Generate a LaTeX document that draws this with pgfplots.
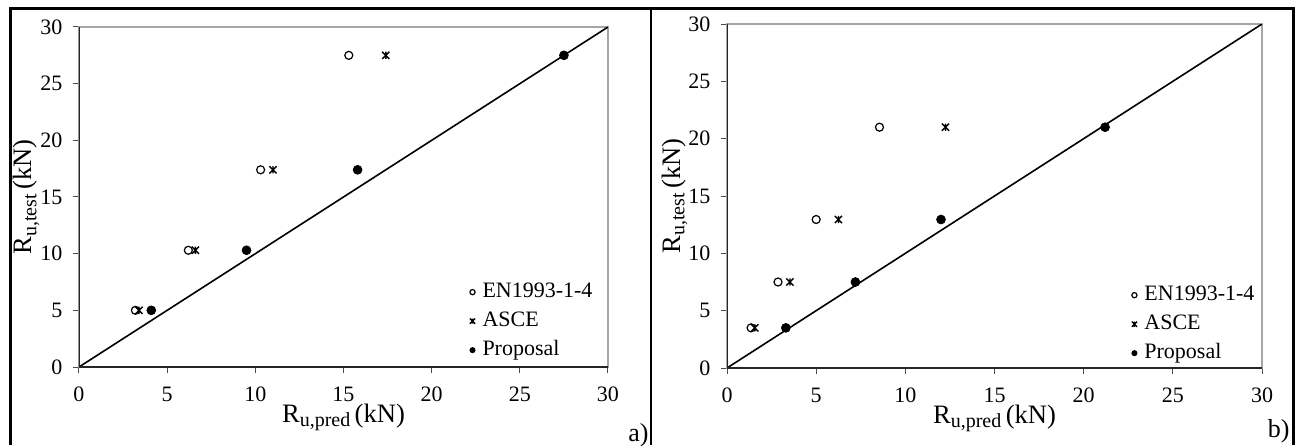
\documentclass[border=0pt]{standalone}
\usepackage{pgfplots}
\pgfplotsset{compat=1.18}
\usepackage{fontspec}
\setmainfont{Liberation Serif}

\pgfdeclareplotmark{xstar}{%
  \pgfpathmoveto{\pgfqpoint{-\pgfplotmarksize}{-\pgfplotmarksize}}%
  \pgfpathlineto{\pgfqpoint{\pgfplotmarksize}{\pgfplotmarksize}}%
  \pgfpathmoveto{\pgfqpoint{-\pgfplotmarksize}{\pgfplotmarksize}}%
  \pgfpathlineto{\pgfqpoint{\pgfplotmarksize}{-\pgfplotmarksize}}%
  \pgfpathmoveto{\pgfqpoint{0pt}{-\pgfplotmarksize}}%
  \pgfpathlineto{\pgfqpoint{0pt}{\pgfplotmarksize}}%
  \pgfusepathqstroke}

\pgfplotsset{
  legend image code/.code={\draw[#1] plot coordinates {(0pt,0pt)};},
  panel/.style={
    scale only axis,
    xmin=0, xmax=30, ymin=0, ymax=30,
    xtick={0,5,...,30}, ytick={0,5,...,30},
    tick pos=left,
    tick align=outside, major tick length=3pt,
    tick style={black!70, line width=0.5pt},
    axis line style={gray!70, line width=0.6pt},
    /pgf/number format/assume math mode=true,
    ticklabel style={font=\fontsize{11}{13}\selectfont},
    xticklabel style={yshift=-3.3pt},
    yticklabel style={xshift=-1.8pt},
    every axis x label/.style={at={(axis description cs:0.5,0)}, anchor=base, yshift=-27.5pt, font=\fontsize{13.3}{16}\selectfont},
    every axis y label/.style={at={(axis description cs:0,0.5)}, anchor=base, rotate=90, yshift=23.5pt, font=\fontsize{13.3}{16}\selectfont},
    xlabel={R\raisebox{-2.2pt}{\fontsize{10}{12}\selectfont u,pred}\,(kN)},
    ylabel={R\raisebox{-2.2pt}{\fontsize{10}{12}\selectfont u,test}\,(kN)},
    legend cell align=left,
    legend image post style={mark size=1.3pt},
    legend style={draw=none, fill=none, inner sep=0pt, column sep=1.7pt, row sep=0pt,
      font=\fontsize{11}{13}\selectfont,
      nodes={inner sep=2pt, text height=8pt, text depth=2.5pt}},
  },
  en/.style={only marks, mark=o, mark size=2pt, mark options={black, line width=0.6pt}},
  asce/.style={only marks, mark=xstar, mark size=1.8pt, mark options={black, line width=0.7pt}},
  prop/.style={only marks, mark=*, mark size=2.2pt, mark options={black, fill=black}},
}

\begin{document}
\begin{tikzpicture}
\path[use as bounding box] (0,0) rectangle (650pt,222.5pt);

% frames
\draw[line width=1.5pt] (5pt,0pt) -- (5pt,218pt) -- (646.5pt,218pt) -- (646.5pt,0pt);
\draw[line width=0.6pt] (325.5pt,0pt) -- (325.5pt,218pt);

% ---------- panel a ----------
\begin{axis}[panel, at={(39.5pt,39pt)}, anchor=south west,
  width=264.5pt, height=170pt,
  legend style={at={(0.979,0.264)}, anchor=north east}]
\addplot[black, line width=0.8pt, forget plot] coordinates {(0,0) (30,30)};
\addplot[en] coordinates {(3.2,5.0) (6.2,10.3) (10.3,17.4) (15.3,27.5)};
\addlegendentry{EN1993-1-4}
\addplot[asce] coordinates {(3.4,5.0) (6.6,10.3) (11.0,17.4) (17.4,27.5)};
\addlegendentry{ASCE}
\addplot[prop] coordinates {(4.1,5.0) (9.5,10.3) (15.8,17.4) (27.5,27.5)};
\addlegendentry{Proposal}
\draw[black!85, line width=0.7pt] (rel axis cs:0,1) -- (rel axis cs:0,0) -- (rel axis cs:1,0);
\end{axis}
\node[anchor=base east, font=\fontsize{13}{15}\selectfont, inner sep=0pt] at (324.5pt,2pt) {a)};

% ---------- panel b ----------
\begin{axis}[panel, at={(363.5pt,38.5pt)}, anchor=south west,
  width=267.5pt, height=172pt,
  legend style={at={(0.994,0.255)}, anchor=north east}]
\addplot[black, line width=0.8pt, forget plot] coordinates {(0,0) (30,30)};
\addplot[en] coordinates {(1.35,3.5) (2.86,7.5) (5.0,12.95) (8.55,21.0)};
\addlegendentry{EN1993-1-4}
\addplot[asce] coordinates {(1.56,3.5) (3.53,7.5) (6.25,12.95) (12.25,21.0)};
\addlegendentry{ASCE}
\addplot[prop] coordinates {(3.3,3.5) (7.2,7.5) (12.0,12.95) (21.2,21.0)};
\addlegendentry{Proposal}
\draw[black!85, line width=0.7pt] (rel axis cs:0,1) -- (rel axis cs:0,0) -- (rel axis cs:1,0);
\end{axis}
\node[anchor=base east, font=\fontsize{13}{15}\selectfont, inner sep=0pt] at (645pt,4pt) {b)};
\end{tikzpicture}
\end{document}
